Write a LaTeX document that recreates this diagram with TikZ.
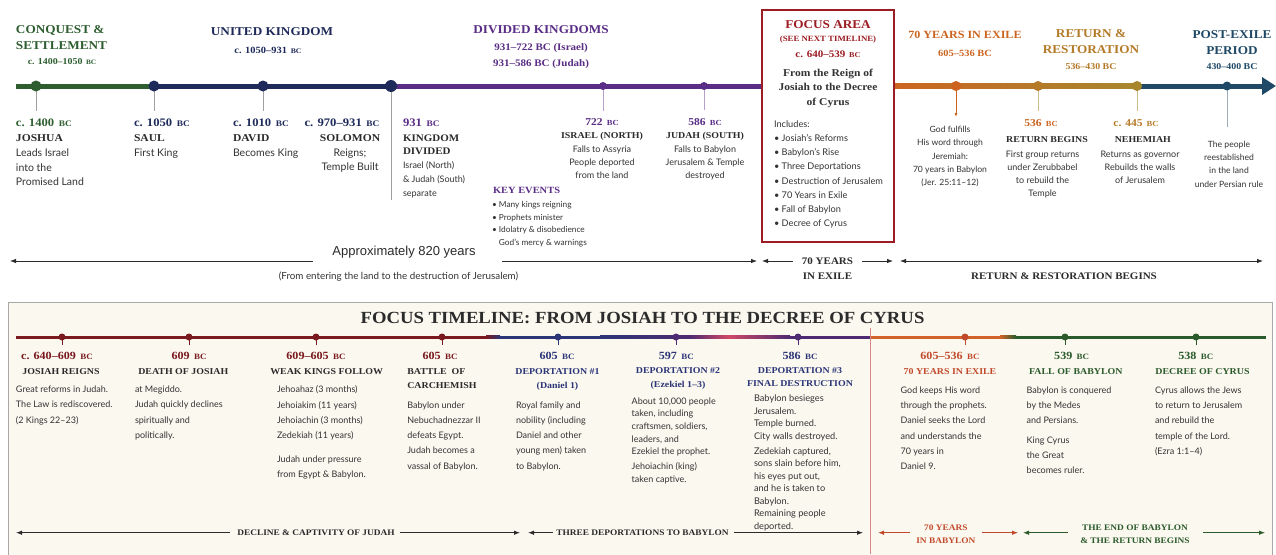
\documentclass[tikz,border=0pt]{standalone}
\usepackage{fontspec}
\usepackage{graphicx}
\usetikzlibrary{arrows.meta}
\setmainfont{Liberation Serif}[FakeStretch=1.1]
\newfontfamily\bodyf{Lato}[Ligatures=TeX]
\newfontfamily\arialf{Liberation Sans}
\definecolor{cgreen}{HTML}{2E5E30}
\definecolor{cnavy}{HTML}{1E2A5A}
\definecolor{cpurple}{HTML}{5A2D86}
\definecolor{cred}{HTML}{9B1C22}
\definecolor{corange}{HTML}{CC6420}
\definecolor{cgoldA}{HTML}{B47A28}
\definecolor{cgold}{HTML}{A8862C}
\definecolor{cteal}{HTML}{1F4966}
\definecolor{ctext}{HTML}{2B2B2B}
\definecolor{cbody}{HTML}{333333}
\definecolor{cbdred}{HTML}{7A1A1E}
\definecolor{cbnavy}{HTML}{2B3577}
\definecolor{cbpurp}{HTML}{4E2A72}
\definecolor{cbpink}{HTML}{D04866}
\definecolor{cbredl}{HTML}{C23A36}
\definecolor{cbred}{HTML}{C24A2C}
\definecolor{cborange}{HTML}{D0622A}
\definecolor{cbgreen}{HTML}{2B5A2B}
\definecolor{cream}{HTML}{FBF8F0}
\definecolor{tickc}{HTML}{A0A0A0}
\definecolor{cbox}{HTML}{A8A8A8}
\newcommand\bcs{\kern0.12em\scalebox{0.74}{BC}}
\newcommand\fHead{\fontsize{12}{16}\selectfont\bfseries}
\newcommand\fPer{\fontsize{9}{12}\selectfont\bfseries}
\newcommand\fTD{\fontsize{11.5}{14}\selectfont\bfseries}
\newcommand\fTN{\fontsize{10.5}{14}\selectfont\bfseries}
\newcommand\fTB{\bodyf\fontsize{10.5}{14.5}\selectfont}
\newcommand\fTS{\bodyf\fontsize{9}{13}\selectfont}
\newcommand\fSN{\fontsize{9}{13}\selectfont\bfseries}
\newcommand\fBD{\fontsize{11}{14}\selectfont\bfseries}
\newcommand\fBN{\fontsize{9}{14}\selectfont\bfseries}
\newcommand\fBB{\bodyf\fontsize{9}{15.3}\selectfont}
\newcommand\fBS{\bodyf\fontsize{9}{12.65}\selectfont}
\newcommand\fAr{\fontsize{8.5}{12.5}\selectfont\bfseries}
\tikzset{
  every node/.style={inner sep=0pt,outer sep=0pt},
  tl/.style={line width=5pt},
  dot/.style={circle,minimum size=11pt},
  sdot/.style={circle,minimum size=7pt},
  tick/.style={draw=tickc,line width=0.8pt},
  rng/.style={draw=ctext,line width=0.8pt},
  tip/.style={-{Latex[length=6pt,width=4.5pt]}},
  tipl/.style={{Latex[length=6pt,width=4.5pt]}-},
  tbody/.style={font=\fTB,text=cbody,align=left},
  tsmall/.style={font=\fTS,text=cbody},
  bbody/.style={font=\fBB,text=cbody,align=left,anchor=north west},
}
\begin{document}
\begin{tikzpicture}[x=1pt,y=-1pt]
\useasboundingbox (0,0) rectangle (1276,554);
\fill[white] (0,0) rectangle (1276,554);

% ---------------- TOP TIMELINE ----------------
\coordinate (pStart) at (16,86);
\coordinate (pJosh) at (36,86);
\coordinate (pSaul) at (154,86);
\coordinate (pDavid) at (263,86);
\coordinate (pDiv) at (391,86);
\coordinate (p722) at (603,86);
\coordinate (p586) at (704,86);
\coordinate (pFocL) at (762,86);
\coordinate (pEx) at (956,86);
\coordinate (p536) at (1038,86);
\coordinate (p445) at (1137,86);
\coordinate (pPost) at (1227,86);
\coordinate (pEnd) at (1276,86);

\draw[tl,cgreen] (pStart) -- (pSaul);
\draw[tl,cnavy] (pSaul) -- (pDiv);
\draw[tl,cpurple] (pDiv) -- (pFocL);
\shade[left color=corange,right color=cgoldA] (894,83.5) rectangle (1038,88.5);
\shade[left color=cgoldA,right color=cgold] (1038,83.5) rectangle (1137,88.5);
\draw[tl,cteal,-{Triangle[length=14pt,width=17pt]}] (p445) -- (pEnd);

% ticks
\draw[tick] (pJosh) -- (36,111);
\draw[tick] (pSaul) -- (154,111);
\draw[tick] (pDavid) -- (263,111);
\draw[tick] (pDiv) -- (391,200);
\draw[tick,draw=cpurple!45] (p722) -- (603,111);
\draw[tick,draw=cpurple!45] (p586) -- (704,110);
\draw[draw=corange,line width=0.8pt,-{Latex[length=4pt,width=3pt]}] (pEx) -- (956,117);
\draw[tick,draw=cgold!55] (p536) -- (1038,111);
\draw[tick,draw=cgold!55] (p445) -- (1137,111);
\draw[tick,draw=cteal!45] (pPost) -- (1227,127);

% dots
\node[dot,fill=cgreen] (dJosh) at (pJosh) {};
\node[dot,fill=cnavy] (dSaul) at (pSaul) {};
\node[dot,fill=cnavy] (dDavid) at (pDavid) {};
\node[dot,fill=cnavy,minimum size=12pt] (dDiv) at (pDiv) {};
\node[sdot,fill=cpurple,minimum size=8pt] (d722) at (p722) {};
\node[sdot,fill=cpurple,minimum size=8pt] (d586) at (p586) {};
\node[dot,fill=corange,minimum size=10pt] (dEx) at (pEx) {};
\node[dot,fill=cgoldA,minimum size=10pt] (d536) at (p536) {};
\node[dot,fill=cgold,minimum size=10pt] (d445) at (p445) {};
\node[dot,fill=cteal,minimum size=9pt] (dPost) at (pPost) {};

% focus box
\node[draw=cred,line width=1.8pt,fill=white,anchor=north west,minimum width=132pt,minimum height=232pt] (fbox) at (762,10) {};
\node[font=\fHead,text=cred] (fTitle) at (828,25) {FOCUS AREA};
\node[font=\fontsize{8}{10}\selectfont\bfseries,text=cred] (fSee) at (828,39.5) {(SEE NEXT TIMELINE)};
\node[font=\fontsize{10}{12}\selectfont\bfseries,text=cred] (fDate) at (828,54) {c. 640--539 \bcs};
\node[font=\fontsize{10.5}{14.5}\selectfont\bfseries,text=cbody,align=center,anchor=north] (fFrom) at (828,69) {From the Reign of\\Josiah to the Decree\\of Cyrus};
\node[font=\bodyf\fontsize{9.2}{14.2}\selectfont,text=cbody,align=left,anchor=north west] (fInc) at (774,120.5) {Includes:\\• Josiah's Reforms\\• Babylon's Rise\\• Three Deportations\\• Destruction of Jerusalem\\• 70 Years in Exile\\• Fall of Babylon\\• Decree of Cyrus};

% period headings
\node[font=\fHead,text=cgreen,align=left,anchor=north west] (hConq) at (16,25.5) {CONQUEST \&\\SETTLEMENT};
\node[font=\fPer,text=cgreen] (dConq) at (62,62) {c. 1400--1050 \bcs};
\node[font=\fHead,text=cnavy] (hUK) at (272,32) {UNITED KINGDOM};
\node[font=\fontsize{9.5}{12}\selectfont\bfseries,text=cnavy] (dUK) at (268,50) {c. 1050--931 \bcs};
\node[font=\fHead,text=cpurple] (hDK) at (541,30) {DIVIDED KINGDOMS};
\node[font=\fontsize{10}{15.3}\selectfont\bfseries,text=cpurple,align=center,anchor=north] (dDK) at (541,44) {931--722 BC (Israel)\\931--586 BC (Judah)};
\node[font=\fontsize{11}{14}\selectfont\bfseries,text=corange] (hEx) at (965,35) {70 YEARS IN EXILE};
\node[font=\fontsize{9.5}{12}\selectfont\bfseries,text=corange] (dEx2) at (965,53) {605--536 BC};
\node[font=\fHead,text=cgoldA,align=center,anchor=north] (hRet) at (1091,29.5) {RETURN \&\\RESTORATION};
\node[font=\fPer,text=cgoldA] (dRet) at (1091,67) {536--430 BC};
\node[font=\fHead,text=cteal,align=center,anchor=north] (hPost) at (1232,30.5) {POST-EXILE\\PERIOD};
\node[font=\fPer,text=cteal] (dPost2) at (1232,67) {430--400 BC};

% events top
\node[font=\fTD,text=cgreen,anchor=west] (jD) at (16,122.7) {c. 1400 \bcs};
\node[font=\fTN,text=ctext,anchor=west] (jN) at (16,137.7) {JOSHUA};
\node[tbody,anchor=north west] (jB) at (16,148.8) {Leads Israel\\into the\\Promised Land};
\node[font=\fTD,text=cnavy,anchor=west] (sD) at (134,122.7) {c. 1050 \bcs};
\node[font=\fTN,text=ctext,anchor=west] (sN) at (134,137.7) {SAUL};
\node[tbody,anchor=north west] (sB) at (134,148.8) {First King};
\node[font=\fTD,text=cnavy,anchor=west] (vD) at (233,122.7) {c. 1010 \bcs};
\node[font=\fTN,text=ctext,anchor=west] (vN) at (233,137.7) {DAVID};
\node[tbody,anchor=north west] (vB) at (233,148.8) {Becomes King};
\node[font=\fTD,text=cnavy] (soD) at (342,122.7) {c. 970--931 \bcs};
\node[font=\fTN,text=ctext] (soN) at (350,137.7) {SOLOMON};
\node[tbody,align=center,anchor=north] (soB) at (350,148.8) {Reigns;\\Temple Built};
\node[font=\fTD,text=cpurple,anchor=west] (kD) at (403,122.7) {931 \bcs};
\node[font=\fontsize{10}{13}\selectfont\bfseries,text=ctext,align=left,anchor=north west] (kN) at (403,134.4) {KINGDOM\\DIVIDED};
\node[font=\bodyf\fontsize{9}{13.7}\selectfont,text=cbody,align=left,anchor=north west] (kB) at (403,162) {Israel (North)\\\& Judah (South)\\separate};
\node[font=\fontsize{10.5}{12}\selectfont\bfseries,text=cpurple] (iD) at (602,122.5) {722 \bcs};
\node[font=\fSN,text=ctext] (iN) at (602,136.7) {ISRAEL (NORTH)};
\node[tsmall,align=center,anchor=north] (iB) at (602,145.7) {Falls to Assyria\\People deported\\from the land};
\node[font=\fontsize{10.5}{12}\selectfont\bfseries,text=cpurple] (uD) at (705,122.5) {586 \bcs};
\node[font=\fSN,text=ctext] (uN) at (705,136.7) {JUDAH (SOUTH)};
\node[tsmall,align=center,anchor=north] (uB) at (705,145.7) {Falls to Babylon\\Jerusalem \& Temple\\destroyed};
\node[font=\fontsize{9.5}{12}\selectfont\bfseries,text=cpurple,anchor=west] (keH) at (493,190.7) {KEY EVENTS};
\node[font=\bodyf\fontsize{8.3}{12.9}\selectfont,text=cbody,align=left,anchor=north west] (keB) at (492,201) {• Many kings reigning\\• Prophets minister\\• Idolatry \& disobedience\\\phantom{• }God's mercy \& warnings};
\node[font=\bodyf\fontsize{8.6}{13.1}\selectfont,text=cbody,align=center,anchor=north] (exB) at (950,126.5) {God fulfills\\His word through\\Jeremiah:\\70 years in Babylon\\(Jer. 25:11–12)};
\node[font=\fontsize{10.5}{12}\selectfont\bfseries,text=corange] (rD) at (1041,122.7) {536 \bcs};
\node[font=\fSN,text=ctext] (rN) at (1047,139.3) {RETURN BEGINS};
\node[tsmall,align=center,anchor=north] (rB) at (1042.5,150.7) {First group returns\\under Zerubbabel\\to rebuild the\\Temple};
\node[font=\fontsize{10.5}{12}\selectfont\bfseries,text=cgoldA] (nD) at (1136,122.7) {c. 445 \bcs};
\node[font=\fSN,text=ctext] (nN) at (1142.8,139.3) {NEHEMIAH};
\node[tsmall,align=center,anchor=north] (nB) at (1140,150.7) {Returns as governor\\Rebuilds the walls\\of Jerusalem};
\node[font=\bodyf\fontsize{8.6}{13.2}\selectfont,text=cbody,align=center,anchor=north] (pB) at (1229,141.2) {The people\\reestablished\\in the land\\under Persian rule};

% range arrows top
\node[font=\arialf\fontsize{13}{15}\selectfont,text=ctext] (apx) at (404,252) {Approximately 820 years};
\coordinate (r1a) at (10,261);
\coordinate (r1b) at (313,261);
\coordinate (r1c) at (502,261);
\coordinate (r1d) at (757,261);
\draw[rng,tipl] (r1a) -- (r1b);
\draw[rng,tip] (r1c) -- (r1d);
\node[font=\bodyf\fontsize{9.8}{12}\selectfont,text=cbody] (fromT) at (398.5,276.5) {(From entering the land to the destruction of Jerusalem)};
\node[font=\fontsize{10}{14.5}\selectfont\bfseries,text=ctext,align=center,anchor=north] (yEx) at (827.5,258) {70 YEARS\\IN EXILE};
\coordinate (r2a) at (762,261);
\coordinate (r2b) at (793,261);
\coordinate (r2c) at (862,261);
\coordinate (r2d) at (893,261);
\draw[rng,tipl] (r2a) -- (r2b);
\draw[rng,tip] (r2c) -- (r2d);
\coordinate (r3a) at (900,261);
\coordinate (r3b) at (1263,261);
\draw[rng,{Latex[length=6pt,width=4.5pt]}-{Latex[length=6pt,width=4.5pt]}] (r3a) -- (r3b);
\node[font=\fontsize{10}{12}\selectfont\bfseries,text=ctext] (retB) at (1064,276) {RETURN \& RESTORATION BEGINS};

% ---------------- BOTTOM PANEL ----------------
\node[draw=cbox,fill=cream,line width=1pt,anchor=north west,minimum width=1264pt,minimum height=262pt] (panel) at (8,302) {};
\node[font=\fontsize{17}{19}\selectfont\bfseries,text=ctext] (btitle) at (642.5,318) {FOCUS TIMELINE: FROM JOSIAH TO THE DECREE OF CYRUS};

\fill[cbdred] (16,335.5) rectangle (486,338.5);
\shade[left color=cbdred,right color=cbnavy] (486,335.5) rectangle (500,338.5);
\fill[cbnavy] (500,335.5) rectangle (600,338.5);
\shade[left color=cbnavy,right color=cbpurp] (600,335.5) rectangle (690,338.5);
\shade[left color=cbpurp,right color=cbpink] (690,335.5) rectangle (728,338.5);
\shade[left color=cbpink,right color=cbpurp] (728,335.5) rectangle (790,338.5);
\fill[cbpurp] (790,335.5) rectangle (870,338.5);
\fill[cborange] (870,335.5) rectangle (1000,338.5);
\shade[left color=cborange,right color=cbgreen] (1000,335.5) rectangle (1016,338.5);
\fill[cbgreen] (1016,335.5) rectangle (1266,338.5);

\draw[draw=cbredl!60,line width=0.9pt] (870,328) -- (870,554);

\foreach \nm/\xx/\cc in {b1/62/cbdred,b2/189/cbdred,b3/316/cbdred,b4/442/cbdred,b5/558/cbnavy,b6/676/cbpurp,b7/798/cbpurp,b8/965/cbred,b9/1065/cbgreen,b10/1196/cbgreen}{
  \node[sdot,fill=\cc] (\nm) at (\xx,337) {};
  \draw[\cc,line width=1pt] (\nm.center) -- (\xx,345);
}

% bottom events
\node[font=\fBD,text=cbdred] (e1D) at (57,355.7) {c. 640--609 \bcs};
\node[font=\fBN,text=ctext] (e1N) at (61,371.7) {JOSIAH REIGNS};
\node[bbody] (e1B) at (16,386) {Great reforms in Judah.\\The Law is rediscovered.\\(2 Kings 22–23)};

\node[font=\fBD,text=cbdred] (e2D) at (189,355.7) {609 \bcs};
\node[font=\fBN,text=ctext] (e2N) at (183.3,371.7) {DEATH OF JOSIAH};
\node[bbody] (e2B) at (135,386) {at Megiddo.\\Judah quickly declines\\spiritually and\\politically.};

\node[font=\fBD,text=cbdred] (e3D) at (316,355.7) {609--605 \bcs};
\node[font=\fBN,text=ctext] (e3N) at (326.7,371.7) {WEAK KINGS FOLLOW};
\node[bbody] (e3B) at (277,386) {Jehoahaz (3 months)\\Jehoiakim (11 years)\\Jehoiachin (3 months)\\Zedekiah (11 years)\\[8.5pt]Judah under pressure\\from Egypt \& Babylon.};

\node[font=\fBD,text=cbdred] (e4D) at (440,355.7) {605 \bcs};
\node[font=\fBN,text=ctext,align=left,anchor=north west] (e4N) at (407.3,368.7) {BATTLE\ \ OF\\CARCHEMISH};
\node[bbody,font=\bodyf\fontsize{9}{15.2}\selectfont] (e4B) at (407.3,401.7) {Babylon under\\Nebuchadnezzar II\\defeats Egypt.\\Judah becomes a\\vassal of Babylon.};

\node[font=\fBD,text=cbnavy] (e5D) at (557,355.7) {605 \bcs};
\node[font=\fBN,text=cbnavy,align=center,anchor=north] (e5N) at (557.5,368.7) {DEPORTATION \#1\\(Daniel 1)};
\node[bbody,font=\bodyf\fontsize{9}{15.2}\selectfont] (e5B) at (516,401.7) {Royal family and\\nobility (including\\Daniel and other\\young men) taken\\to Babylon.};

\node[font=\fBD,text=cbnavy] (e6D) at (676.3,355.7) {597 \bcs};
\node[font=\fontsize{9}{13.3}\selectfont\bfseries,text=cbnavy,align=center,anchor=north] (e6N) at (678,368) {DEPORTATION \#2\\(Ezekiel 1–3)};
\node[bbody,font=\fBS] (e6B) at (631.7,397.5) {About 10,000 people\\taken, including\\craftsmen, soldiers,\\leaders, and\\Ezekiel the prophet.\\[2.6pt]Jehoiachin (king)\\taken captive.};

\node[font=\fBD,text=cbnavy] (e7D) at (800,355.7) {586 \bcs};
\node[font=\fontsize{9}{13}\selectfont\bfseries,text=cbnavy,align=center,anchor=north] (e7N) at (800,368) {DEPORTATION \#3\\FINAL DESTRUCTION};
\node[bbody,font=\bodyf\fontsize{9.2}{12.5}\selectfont] (e7B) at (754,395) {Babylon besieges\\Jerusalem.\\Temple burned.\\City walls destroyed.\\[2.5pt]Zedekiah captured,\\sons slain before him,\\his eyes put out,\\and he is taken to\\Babylon.\\Remaining people\\deported.};

\node[font=\fBD,text=cbred] (e8D) at (950,355.7) {605--536 \bcs};
\node[font=\fBN,text=cbred] (e8N) at (950,371.7) {70 YEARS IN EXILE};
\node[bbody] (e8B) at (900.7,386.7) {God keeps His word\\through the prophets.\\Daniel seeks the Lord\\and understands the\\70 years in\\Daniel 9.};

\node[font=\fBD,text=cbgreen] (e9D) at (1071.7,355.7) {539 \bcs};
\node[font=\fBN,text=cbgreen] (e9N) at (1075.8,371.7) {FALL OF BABYLON};
\node[bbody] (e9B) at (1026.7,386.7) {Babylon is conquered\\by the Medes\\and Persians.\\[4pt]King Cyrus\\the Great\\becomes ruler.};

\node[font=\fBD,text=cbgreen] (e10D) at (1195.8,355.7) {538 \bcs};
\node[font=\fBN,text=cbgreen] (e10N) at (1202.5,371.7) {DECREE OF CYRUS};
\node[bbody] (e10B) at (1155,386.7) {Cyrus allows the Jews\\to return to Jerusalem\\and rebuild the\\temple of the Lord.\\(Ezra 1:1–4)};

% bottom range arrows
\node[font=\fAr,text=ctext] (aDec) at (316,532.7) {DECLINE \& CAPTIVITY OF JUDAH};
\coordinate (q1a) at (16,532.7);
\coordinate (q1b) at (230,532.7);
\coordinate (q1c) at (400,532.7);
\coordinate (q1d) at (520,532.7);
\draw[rng,tipl] (q1a) -- (q1b);
\draw[rng,tip] (q1c) -- (q1d);
\node[font=\fAr,text=ctext] (aDep) at (642.5,532.7) {THREE DEPORTATIONS TO BABYLON};
\coordinate (q2a) at (528,532.7);
\coordinate (q2b) at (553,532.7);
\coordinate (q2c) at (734,532.7);
\coordinate (q2d) at (863,532.7);
\draw[rng,tipl] (q2a) -- (q2b);
\draw[rng,tip] (q2c) -- (q2d);
\node[font=\fAr,text=cbred,align=center,anchor=north] (aBab) at (945.8,525.3) {70 YEARS\\IN BABYLON};
\coordinate (q3a) at (878,532.7);
\coordinate (q3b) at (910,532.7);
\coordinate (q3c) at (982,532.7);
\coordinate (q3d) at (1018,532.7);
\draw[rng,draw=cbred,tipl] (q3a) -- (q3b);
\draw[rng,draw=cbred,tip] (q3c) -- (q3d);
\node[font=\fAr,text=cbgreen,align=center,anchor=north] (aEnd) at (1135,525.3) {THE END OF BABYLON\\\& THE RETURN BEGINS};
\coordinate (q4a) at (1023,532.7);
\coordinate (q4b) at (1068,532.7);
\coordinate (q4c) at (1203,532.7);
\coordinate (q4d) at (1265,532.7);
\draw[rng,draw=cbgreen,tipl] (q4a) -- (q4b);
\draw[rng,draw=cbgreen,tip] (q4c) -- (q4d);
\end{tikzpicture}
\end{document}
